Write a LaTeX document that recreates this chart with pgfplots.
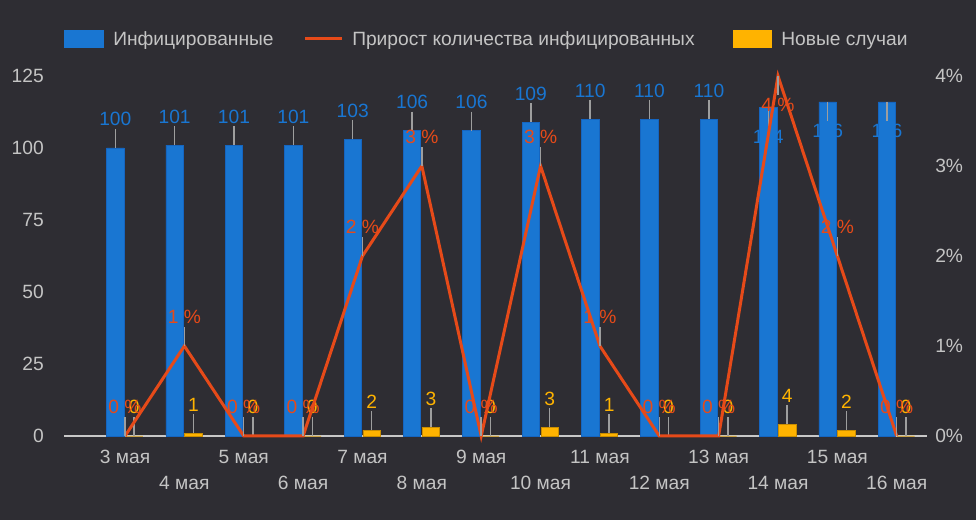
\documentclass[border=0pt]{standalone}
\usepackage{pgfplots}
\pgfplotsset{compat=1.18}
\usepackage{pgfplotstable}
\usepackage{fontspec}
\setmainfont{Liberation Sans}
\definecolor{bg}{HTML}{2E2D33}
\definecolor{cblue}{HTML}{1976D2}
\definecolor{cblueb}{HTML}{1565C0}
\definecolor{corange}{HTML}{E64A19}
\definecolor{cyellow}{HTML}{FFB300}
\definecolor{cyellowb}{HTML}{C98D00}
\definecolor{ctext}{HTML}{C4C4C4}
\definecolor{cstem}{HTML}{9E9E9E}
\definecolor{cbase}{HTML}{C8C8C8}

% x = day index (0 = 3 May)
\pgfplotstableread{
x y
0 100
1 101
2 101
3 101
4 103
5 106
6 106
7 109
8 110
9 110
10 110
11 114
12 116
13 116
}\infected

\pgfplotstableread{
x y
0 0
1 1
2 0
3 0
4 2
5 3
6 0
7 3
8 1
9 0
10 0
11 4
12 2
13 0
}\newcases

\pgfplotstableread{
x y
0 0
1 1
2 0
3 0
4 2
5 3
6 0
7 3
8 1
9 0
10 0
11 4
12 2
13 0
}\growth

\newcommand\chartfont{\fontsize{14.4}{16}\selectfont}

\pgfplotsset{
  base/.style={
    at={(48pt,63pt)}, anchor=south west,
    scale only axis, width=647.25pt, height=270pt,
    xmin=-1.028, xmax=13.51,
    clip=false,
    major tick length=0pt,
    /pgf/number format/assume math mode=true,
    tick label style={font=\chartfont, text=ctext},
  },
  stemup/.style 2 args={
    error bars/y dir=plus, error bars/y fixed=#1, error bars/error mark=none,
    error bars/error bar style={cstem, line width=1.1pt, xshift=#2},
  },
  stemdown/.style 2 args={
    error bars/y dir=minus, error bars/y fixed=#1, error bars/error mark=none,
    error bars/error bar style={cstem, line width=1.1pt, xshift=#2},
  },
  labup/.style 2 args={
    nodes near coords,
    every node near coord/.append style={font=\chartfont, text=#1,
      anchor=base, inner sep=0pt, yshift=16.5pt, xshift=#2},
  },
  labdown/.style 2 args={
    nodes near coords,
    every node near coord/.append style={font=\chartfont, text=#1,
      anchor=base, inner sep=0pt, yshift=-27pt, xshift=#2},
  },
}

\begin{document}
\begin{tikzpicture}
\fill[bg] (0,0) rectangle (732pt,390pt);

% legend
\fill[cblue] (48pt,354pt) rectangle (78pt,367.5pt);
\node[anchor=base west, inner sep=0pt, text=ctext, font=\chartfont] at (84.75pt,355.9pt) {Инфицированные};
\draw[corange, line width=2.25pt] (228.75pt,360.75pt) -- (256.5pt,360.75pt);
\node[anchor=base west, inner sep=0pt, text=ctext, font=\chartfont] at (264pt,355.9pt) {Прирост количества инфицированных};
\fill[cyellow] (549.75pt,354pt) rectangle (579pt,367.5pt);
\node[anchor=base west, inner sep=0pt, text=ctext, font=\chartfont] at (585.75pt,355.9pt) {Новые случаи};

\begin{axis}[base,
  ymin=0, ymax=125,
  ytick={0,25,...,125},
  xtick={0,2,...,12},
  xticklabels={3 мая,5 мая,7 мая,9 мая,11 мая,13 мая,15 мая},
  extra x ticks={1,3,...,13},
  extra x tick labels={4 мая,6 мая,8 мая,10 мая,12 мая,14 мая,16 мая},
  extra x tick style={xticklabel style={yshift=-19.5pt}},
  xticklabel style={anchor=base, yshift=-21pt},
  yticklabel style={anchor=east, inner sep=0pt, xshift=-15pt},
  axis x line*=bottom, axis y line*=left,
  x axis line style={draw=cbase, line width=1.5pt, -},
  y axis line style={draw=none},
]
% blue bars, labels above (3-13 May)
\addplot[ybar, bar width=13.1pt, bar shift=-7.3pt, fill=cblue, draw=cblueb, line width=0.6pt,
  point meta=y, labup={cblue}{-7.3pt}, stemup={6.6}{-7.3pt}, skip coords between index={11}{14}]
  table[x=x, y=y] {\infected};
% blue bars, labels below (14-16 May)
\addplot[ybar, bar width=13.1pt, bar shift=-7.3pt, fill=cblue, draw=cblueb, line width=0.6pt,
  point meta=y, labdown={cblue}{-7.3pt}, stemdown={6.6}{-7.3pt}, skip coords between index={0}{11}]
  table[x=x, y=y] {\infected};
% yellow bars
\addplot[ybar, bar width=13.1pt, bar shift=6.9pt, fill=cyellow, draw=cyellowb, line width=0.6pt,
  point meta=y, labup={cyellow}{6.9pt}, stemup={6.6}{6.9pt}]
  table[x=x, y=y] {\newcases};
\end{axis}

\begin{axis}[base,
  ymin=0, ymax=4,
  ytick={0,1,2,3,4},
  yticklabels={0\%,1\%,2\%,3\%,4\%},
  yticklabel style={anchor=west, inner sep=0pt, xshift=6pt},
  axis x line=none, axis y line*=right,
  y axis line style={draw=none},
  xtick=\empty,
]
\addplot[corange, line width=2.25pt, mark=none, line join=miter]
  table[x=x, y=y] {\growth};
% labels above
\addplot[draw=none, mark=none, point meta=y, labup={corange}{0pt},
  nodes near coords={\pgfmathprintnumber{\pgfplotspointmeta} \%},
  stemup={0.211}{0pt}, skip coords between index={11}{12}]
  table[x=x, y=y] {\growth};
% label below (peak at 14 May)
\addplot[draw=none, mark=none, point meta=y, labdown={corange}{0pt},
  nodes near coords={\pgfmathprintnumber{\pgfplotspointmeta} \%},
  stemdown={0.211}{0pt}, skip coords between index={0}{11}, skip coords between index={12}{14}]
  table[x=x, y=y] {\growth};
\end{axis}
\end{tikzpicture}
\end{document}
